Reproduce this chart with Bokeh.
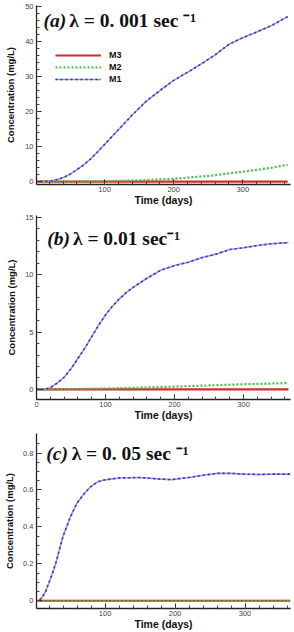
from bokeh.plotting import figure
from bokeh.layouts import column
from bokeh.models import Range1d, FixedTicker, Label, Legend, LegendItem
from bokeh.embed import file_html
from bokeh.resources import INLINE

# ---------------- data ----------------
X_TICKS = [0, 100, 200, 300]
X_MINOR = [0, 20, 40, 60, 80, 100, 120, 140, 160, 180, 200, 220, 240, 260, 280, 300, 320, 340, 360]

# panel (a)  lambda = 0.001 s^-1
TA_M1 = [0, 20, 30, 40, 50, 60, 70, 80, 90, 100, 110, 120, 140, 160, 180, 200, 220, 240, 260, 280, 300, 320, 340, 365]
A_M1 = [0, 0.1, 0.5, 1.1, 2.1, 3.4, 4.8, 6.5, 8.5, 10.6, 12.7, 14.8, 19.0, 22.9, 26.0, 28.9, 31.2, 33.6, 36.2, 39.2, 41.1, 42.7, 44.4, 47.1]
TA_M2 = [0, 50, 100, 150, 200, 250, 300, 340, 365]
A_M2 = [0, 0, 0.1, 0.35, 0.8, 1.6, 2.8, 3.9, 4.8]
TA_M3 = [0, 365]
A_M3 = [0, 0]
YA_TICKS = [0, 10, 20, 30, 40, 50]
YA_MINOR = [0, 2, 4, 6, 8, 10, 12, 14, 16, 18, 20, 22, 24, 26, 28, 30, 32, 34, 36, 38, 40, 42, 44, 46, 48, 50]

# panel (b)  lambda = 0.01 s^-1
TB_M1 = [0, 10, 20, 30, 40, 50, 60, 70, 80, 90, 100, 110, 120, 130, 140, 150, 160, 180, 200, 220, 240, 260, 280, 300, 320, 340, 365]
B_M1 = [0, 0, 0.15, 0.55, 1.06, 1.8, 2.7, 3.6, 4.6, 5.6, 6.5, 7.25, 7.9, 8.45, 8.9, 9.3, 9.7, 10.4, 10.8, 11.1, 11.5, 11.8, 12.2, 12.35, 12.55, 12.7, 12.8]
TB_M2 = [0, 50, 100, 150, 200, 250, 300, 365]
B_M2 = [0, 0.02, 0.08, 0.15, 0.25, 0.35, 0.45, 0.55]
TB_M3 = [0, 365]
B_M3 = [0, 0]
YB_TICKS = [0, 5, 10, 15]
YB_MINOR = [0, 1, 2, 3, 4, 5, 6, 7, 8, 9, 10, 11, 12, 13, 14, 15]

# panel (c)  lambda = 0.05 s^-1
TC_M1 = [0, 5, 10, 15, 20, 25, 30, 40, 50, 60, 70, 80, 90, 100, 120, 150, 175, 195, 220, 240, 260, 280, 300, 320, 340, 365]
C_M1 = [0, 0, 0.018, 0.05, 0.1, 0.15, 0.21, 0.35, 0.45, 0.53, 0.58, 0.62, 0.645, 0.655, 0.665, 0.668, 0.66, 0.656, 0.668, 0.68, 0.69, 0.69, 0.686, 0.684, 0.686, 0.686]
TC_M2 = [0, 365]
C_M2 = [0, 0]
TC_M3 = [0, 365]
C_M3 = [0, 0]
YC_TICKS = [0, 0.2, 0.4, 0.6, 0.8]
YC_MINOR = [0, 0.05, 0.1, 0.15, 0.2, 0.25, 0.3, 0.35, 0.4, 0.45, 0.5, 0.55, 0.6, 0.65, 0.7, 0.75, 0.8, 0.85]

SERIES = ["M3", "M2", "M1"]
TITLES = [("(a)", "λ = 0. 001 sec ⁻¹"),
          ("(b)", "λ = 0.01 sec⁻¹"),
          ("(c)", "λ = 0. 05 sec ⁻¹")]

# ---------------- styling ----------------
RED = "#d42a2a"
GREEN = "#3ec43e"
BLUE_LIGHT = "#9494ea"
BLUE_DARK = "#3232a8"
SANS = "Liberation Sans"
SERIF = "Liberation Serif"
W = 294


def make_panel(geom, xr, yr, yticks, yminor, xticks, ylab_standoff):
    fig_top, fig_h, fl, fr, ft, fb = geom
    p = figure(width=W, height=fig_h, x_range=Range1d(*xr), y_range=Range1d(*yr),
               output_backend="svg", toolbar_location=None,
               min_border_left=fl, min_border_right=W - fr,
               min_border_top=ft - fig_top, min_border_bottom=fig_top + fig_h - fb)
    p.outline_line_color = None
    p.grid.visible = False
    p.background_fill_color = "white"
    p.border_fill_color = "white"
    p.xaxis.ticker = FixedTicker(ticks=xticks, minor_ticks=X_MINOR)
    p.yaxis.ticker = FixedTicker(ticks=yticks, minor_ticks=yminor)
    for ax in (p.xaxis, p.yaxis):
        ax.axis_line_color = "#222222"
        ax.axis_line_width = 1.3
        ax.major_tick_line_color = "#222222"
        ax.minor_tick_line_color = "#444444"
        ax.major_tick_in = 5
        ax.major_tick_out = 0
        ax.minor_tick_in = 3
        ax.minor_tick_out = 0
        ax.major_label_text_font = SANS
        ax.major_label_text_font_size = "7.5px"
        ax.major_label_text_color = "#444444"
        ax.axis_label_text_font = SANS
        ax.axis_label_text_font_style = "bold"
        ax.axis_label_text_color = "#111111"
    p.xaxis.axis_label = "Time (days)"
    p.xaxis.axis_label_text_font_size = "10.5px"
    p.xaxis.major_label_standoff = 2
    p.xaxis.axis_label_standoff = -1
    p.yaxis.axis_label = "Concentration (mg/L)"
    p.yaxis.axis_label_text_font_size = "9.5px"
    p.yaxis.major_label_standoff = 3
    p.yaxis.axis_label_standoff = ylab_standoff
    return p


def to_data(geom, xr, yr, px, py):
    fig_top, fig_h, fl, fr, ft, fb = geom
    x = xr[0] + (px - fl) / (fr - fl) * (xr[1] - xr[0])
    y = yr[0] + (fb - py) / (fb - ft) * (yr[1] - yr[0])
    return x, y


def add_title(p, geom, xr, yr, parts, xs, base_y):
    lab, main = parts
    x0, y0 = to_data(geom, xr, yr, xs[0], base_y)
    x1, _ = to_data(geom, xr, yr, xs[1], base_y)
    p.add_layout(Label(x=x0, y=y0, text=lab, text_font=SERIF, text_font_style="bold italic",
                       text_font_size="19.5px", text_color="#111111", text_baseline="alphabetic"))
    p.add_layout(Label(x=x1, y=y0, text=main, text_font=SERIF, text_font_style="bold",
                       text_font_size="19.5px", text_color="#111111", text_baseline="alphabetic"))


def draw_series(p, t3, m3, t2, m2, t1, m1):
    r3 = p.line(t3, m3, line_color=RED, line_width=2.2)
    r2 = p.line(t2, m2, line_color=GREEN, line_width=2.2, line_dash="2 2")
    r1a = p.line(t1, m1, line_color=BLUE_LIGHT, line_width=1.6)
    r1b = p.line(t1, m1, line_color=BLUE_DARK, line_width=1.6, line_dash="2 3")
    return r3, r2, [r1a, r1b]


# ---------------- panel (a) ----------------
GA = (0, 208, 36, 291, 5, 188)
XRA = (1.5, 369)
YRA = (-0.84, 50.28)
pa = make_panel(GA, XRA, YRA, YA_TICKS, YA_MINOR, X_TICKS, 6)
r3, r2, r1 = draw_series(pa, TA_M3, A_M3, TA_M2, A_M2, TA_M1, A_M1)
add_title(pa, GA, XRA, YRA, TITLES[0], (43, 69), 20.5)
legend = Legend(items=[LegendItem(label=SERIES[0], renderers=[r3]),
                       LegendItem(label=SERIES[1], renderers=[r2]),
                       LegendItem(label=SERIES[2], renderers=r1)],
                location=(19, 99), orientation="vertical",
                glyph_width=46, glyph_height=12, label_height=12, spacing=0,
                padding=0, margin=0, label_standoff=8,
                label_text_font=SANS, label_text_font_style="bold",
                label_text_font_size="9px", label_text_color="#111111",
                border_line_color=None, background_fill_alpha=0)
pa.add_layout(legend)

# ---------------- panel (b) ----------------
GB = (208, 215, 32, 290, 215, 403)
XRB = (0, 368)
YRB = (-0.88, 15.17)
pb = make_panel(GB, XRB, YRB, YB_TICKS, YB_MINOR, X_TICKS, 5)
draw_series(pb, TB_M3, B_M3, TB_M2, B_M2, TB_M1, B_M1)
add_title(pb, GB, XRB, YRB, TITLES[1], (43, 69), 238)

# ---------------- panel (c) ----------------
GC = (423, 209, 33, 293, 433, 612)
XRC = (2, 365)
YRC = (-0.042, 0.906)
pc = make_panel(GC, XRC, YRC, YC_TICKS, YC_MINOR, X_TICKS, 5)
draw_series(pc, TC_M3, C_M3, TC_M2, C_M2, TC_M1, C_M1)
add_title(pc, GC, XRC, YRC, TITLES[2], (43, 69), 453)

layout = column(pa, pb, pc, spacing=0)
open("out.html", "w").write(file_html(layout, INLINE))
